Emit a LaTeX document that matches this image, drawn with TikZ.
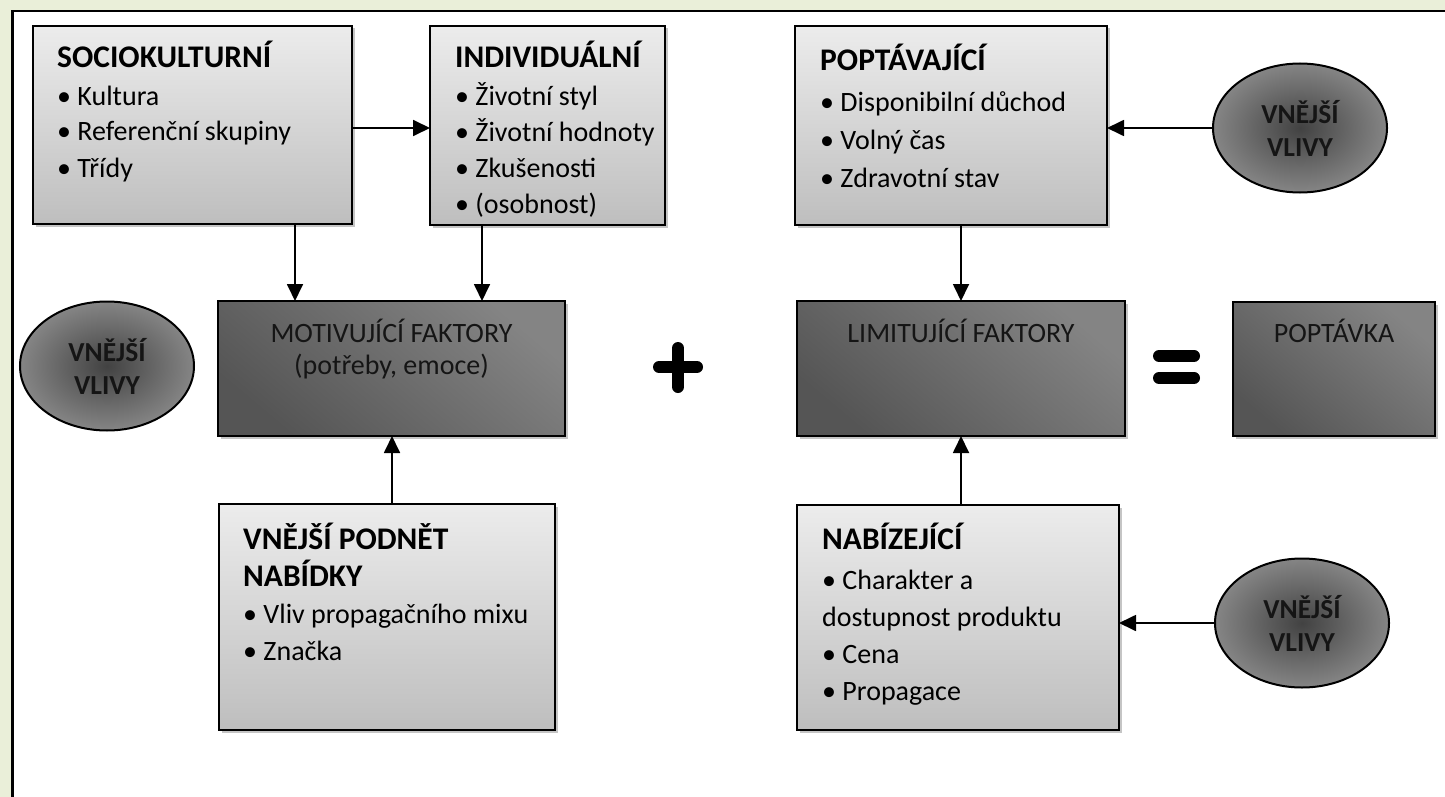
\documentclass[tikz,border=0pt]{standalone}
\usepackage{fontspec}
\setmainfont{Carlito}
\usetikzlibrary{shapes.geometric,arrows.meta,shadows}

\definecolor{pagebg}{HTML}{EAEFD9}
\definecolor{boxtop}{HTML}{ECECEC}
\definecolor{boxbot}{HTML}{BEBEBE}
\definecolor{darktop}{HTML}{848484}
\definecolor{darkbot}{HTML}{555555}
\definecolor{ellin}{HTML}{424242}
\definecolor{ellout}{HTML}{858585}
\definecolor{ink}{HTML}{151515}

% larger bold heading inside the factor boxes
\newcommand{\boxhead}[1]{{\fontsize{31.5pt}{36pt}\selectfont\bfseries #1}}

\begin{document}
\begin{tikzpicture}[x=1pt,y=-1pt,
  lightbox/.style={draw=black, line width=2pt, top color=boxtop, bottom color=boxbot,
    drop shadow={shadow xshift=2.5pt, shadow yshift=-2.5pt, fill=black!45, opacity=0.5},
    inner sep=0pt, outer sep=0pt},
  darkbox/.style={draw=black, line width=2.2pt, top color=darktop, bottom color=darkbot,
    shading angle=-40,
    drop shadow={shadow xshift=2.5pt, shadow yshift=-2.5pt, fill=black!45, opacity=0.5},
    inner sep=0pt, outer sep=0pt},
  influence/.style={ellipse, draw=black, line width=2pt, inner color=ellin, outer color=ellout,
    minimum width=174pt, minimum height=129pt, inner sep=0pt, outer sep=0pt,
    align=center, text=ink, font=\fontsize{27.5pt}{33pt}\selectfont\bfseries},
  listtext/.style={anchor=base west, align=left, inner sep=0pt, text=black,
    font=\fontsize{28pt}{36pt}\selectfont},
  darktext/.style={anchor=base, align=center, inner sep=0pt, text=ink,
    font=\fontsize{28pt}{32pt}\selectfont},
  arr/.style={line width=1.8pt, -{Triangle[length=17pt,width=16pt]}},
  sign/.style={line width=12pt, line cap=round}
]
\useasboundingbox (0,0) rectangle (1445,797);
\clip (0,0) rectangle (1445,797);

% page background and frame
\fill[pagebg] (0,0) rectangle (1445,797);
\fill[white] (12.5,11) rectangle (1460,810);
\draw[line width=2.2pt] (1460,11) -- (12.5,11) -- (12.5,810);

% upper row of factor boxes
\node[lightbox, minimum width=319pt, minimum height=198pt] (socio) at (192.5,125) {};
\node[lightbox, minimum width=235pt, minimum height=199pt] (indiv) at (547.5,125.5) {};
\node[lightbox, minimum width=312pt, minimum height=199pt] (popt) at (951,125.5) {};

% lower row of factor boxes
\node[lightbox, minimum width=336pt, minimum height=226pt] (vpod) at (387,617) {};
\node[lightbox, minimum width=322pt, minimum height=225pt] (nabiz) at (958,617.5) {};

% middle row
\node[darkbox, minimum width=347pt, minimum height=135pt] (motiv) at (391.5,368.5) {};
\node[darkbox, minimum width=328pt, minimum height=135pt] (limit) at (961,368.5) {};
\node[darkbox, minimum width=202pt, minimum height=134pt] (poptavka) at (1334,369) {};

% external influences
\node[influence] (e1) at (107,366) {VNĚJŠÍ\\VLIVY};
\node[influence] (e2) at (1300,128) {VNĚJŠÍ\\VLIVY};
\node[influence] (e3) at (1302,623) {VNĚJŠÍ\\VLIVY};

% box texts (anchored at the baseline of their last line)
\node[listtext] (sociot) at (57,177)
  {\boxhead{SOCIOKULTURNÍ}\\[2pt]• Kultura\\• Referenční skupiny\\• Třídy};
\node[listtext] (indivt) at (455,213)
  {\boxhead{INDIVIDUÁLNÍ}\\[2pt]• Životní styl\\• Životní hodnoty\\• Zkušenosti\\• (osobnost)};
\node[listtext, font=\fontsize{28pt}{38pt}\selectfont] (poptt) at (820,187)
  {\boxhead{POPTÁVAJÍCÍ}\\[3pt]• Disponibilní důchod\\• Volný čas\\• Zdravotní stav};
\node[listtext, font=\fontsize{28pt}{37pt}\selectfont] (vpodt) at (243,660)
  {\boxhead{VNĚJŠÍ PODNĚT}\\\boxhead{NABÍDKY}\\• Vliv propagačního mixu\\• Značka};
\node[listtext, font=\fontsize{28pt}{37pt}\selectfont] (nabizt) at (822,700)
  {\boxhead{NABÍZEJÍCÍ}\\[3pt]• Charakter a\\dostupnost produktu\\• Cena\\• Propagace};

\node[darktext] (motivt) at (391.5,374) {MOTIVUJÍCÍ FAKTORY\\(potřeby, emoce)};
\node[darktext] (limitt) at (961,342) {LIMITUJÍCÍ FAKTORY};
\node[darktext] (poptavkat) at (1334,342) {POPTÁVKA};

% connectors
\coordinate (ya) at (0,128);
\coordinate (xs) at (295,0);
\coordinate (xi) at (482,0);
\coordinate (xv) at (392,0);
\coordinate (xl) at (961,0);
\draw[arr] (socio.east |- ya) -- (indiv.west |- ya);
\draw[arr] (socio.south -| xs) -- (motiv.north -| xs);
\draw[arr] (indiv.south -| xi) -- (motiv.north -| xi);
\draw[arr] (vpod.north -| xv) -- (motiv.south -| xv);
\draw[arr] (popt.south -| xl) -- (limit.north -| xl);
\draw[arr] (nabiz.north -| xl) -- (limit.south -| xl);
\draw[arr] (e2.west) -- (e2.west -| popt.east);
\draw[arr] (e3.west) -- (e3.west -| nabiz.east);

% plus and equals signs
\draw[sign] (659,367) -- (697,367);
\draw[sign] (678,348) -- (678,387);
\draw[sign] (1159,356) -- (1194,356);
\draw[sign] (1159,378) -- (1194,378);
\end{tikzpicture}
\end{document}
